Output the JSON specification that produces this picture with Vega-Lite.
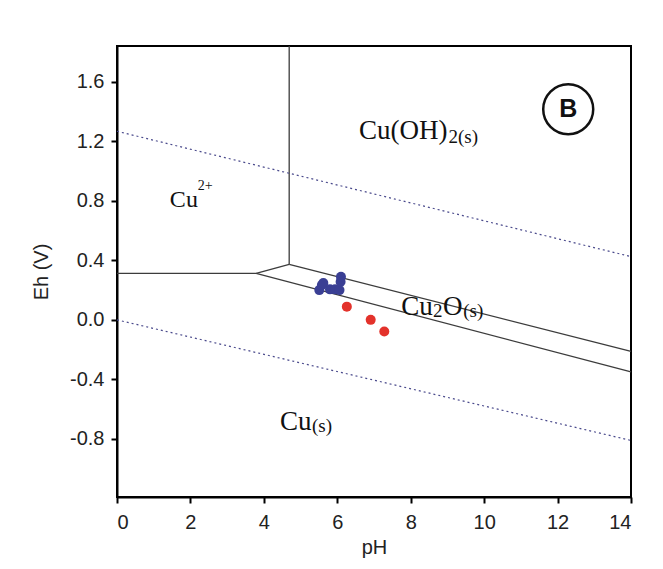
{
  "$schema": "https://vega.github.io/schema/vega-lite/v6.json",
  "autosize": {"type": "none"},
  "width": 514,
  "height": 451,
  "padding": {"left": 117, "top": 46, "right": 32, "bottom": 72},
  "background": "white",
  "config": {
    "view": {"stroke": "black", "strokeWidth": 2},
    "axis": {
      "grid": false,
      "domainColor": "black",
      "domainWidth": 2,
      "tickColor": "black",
      "tickWidth": 2,
      "tickSize": 6,
      "labelFont": "Liberation Sans",
      "labelFontSize": 20,
      "labelColor": "#222",
      "titleFont": "Liberation Sans",
      "titleFontSize": 20,
      "titleFontWeight": "normal",
      "titleColor": "#222"
    }
  },
  "datasets": {
    "solid": [
      {"seg": "a", "pH": 4.69, "Eh": 1.84},
      {"seg": "a", "pH": 4.69, "Eh": 0.373},
      {"seg": "b", "pH": 0, "Eh": 0.312},
      {"seg": "b", "pH": 3.79, "Eh": 0.312},
      {"seg": "c", "pH": 3.79, "Eh": 0.312},
      {"seg": "c", "pH": 4.69, "Eh": 0.373},
      {"seg": "d", "pH": 4.69, "Eh": 0.373},
      {"seg": "d", "pH": 14, "Eh": -0.212},
      {"seg": "e", "pH": 3.79, "Eh": 0.312},
      {"seg": "e", "pH": 14, "Eh": -0.35}
    ],
    "dotted": [
      {"seg": "u", "pH": 0, "Eh": 1.267},
      {"seg": "u", "pH": 14, "Eh": 0.425},
      {"seg": "l", "pH": 0, "Eh": 0.0},
      {"seg": "l", "pH": 14, "Eh": -0.81}
    ],
    "samples": [
      {"group": "blue", "pH": 5.51, "Eh": 0.2},
      {"group": "blue", "pH": 5.58, "Eh": 0.234},
      {"group": "blue", "pH": 5.62, "Eh": 0.247},
      {"group": "blue", "pH": 5.8, "Eh": 0.205},
      {"group": "blue", "pH": 5.94, "Eh": 0.205},
      {"group": "blue", "pH": 6.06, "Eh": 0.2},
      {"group": "blue", "pH": 6.09, "Eh": 0.256},
      {"group": "blue", "pH": 6.1, "Eh": 0.29},
      {"group": "red", "pH": 6.26, "Eh": 0.089},
      {"group": "red", "pH": 6.91, "Eh": 0.0},
      {"group": "red", "pH": 7.28, "Eh": -0.078}
    ],
    "bigText": [
      {"t": "Cu(OH)", "pH": 6.59, "Eh": 1.217},
      {"t": "Cu", "pH": 7.74, "Eh": 0.033},
      {"t": "O", "pH": 8.88, "Eh": 0.033},
      {"t": "Cu", "pH": 4.44, "Eh": -0.742}
    ],
    "subText": [
      {"t": "2(s)", "pH": 9.03, "Eh": 1.19},
      {"t": "2", "pH": 8.61, "Eh": 0.02},
      {"t": "(s)", "pH": 9.43, "Eh": 0.02},
      {"t": "(s)", "pH": 5.31, "Eh": -0.756}
    ],
    "ionText": [
      {"t": "Cu", "pH": 1.44, "Eh": 0.756}
    ],
    "supText": [
      {"t": "2+", "pH": 2.2, "Eh": 0.87}
    ],
    "badge": [
      {"t": "B", "pH": 12.29, "Eh": 1.415}
    ]
  },
  "layer": [
    {
      "data": {"name": "solid"},
      "mark": {"type": "line", "color": "#3c3c3c", "strokeWidth": 1.3},
      "encoding": {
        "x": {"field": "pH", "type": "quantitative", "scale": {"domain": [0, 14], "nice": false, "zero": false},
              "axis": {"values": [0, 2, 4, 6, 8, 10, 12, 14], "title": "pH", "labelPadding": 9, "titlePadding": 5}},
        "y": {"field": "Eh", "type": "quantitative", "scale": {"domain": [-1.19, 1.84], "nice": false, "zero": false},
              "axis": {"values": [-0.8, -0.4, 0, 0.4, 0.8, 1.2, 1.6], "title": "Eh (V)", "labelPadding": 7, "titlePadding": 18,
                       "labelExpr": "replace(format(datum.value, '.1f'), '\u2212', '-')"}},
        "detail": {"field": "seg"}
      }
    },
    {
      "data": {"name": "dotted"},
      "mark": {"type": "line", "color": "#4a4a8c", "strokeWidth": 1.2, "strokeDash": [2, 3]},
      "encoding": {
        "x": {"field": "pH", "type": "quantitative"},
        "y": {"field": "Eh", "type": "quantitative"},
        "detail": {"field": "seg"}
      }
    },
    {
      "data": {"name": "samples"},
      "mark": {"type": "circle", "size": 100, "opacity": 1},
      "encoding": {
        "x": {"field": "pH", "type": "quantitative"},
        "y": {"field": "Eh", "type": "quantitative"},
        "color": {"field": "group", "type": "nominal", "scale": {"domain": ["blue", "red"], "range": ["#3a3f94", "#e3322b"]}, "legend": null}
      }
    },
    {
      "data": {"name": "bigText"},
      "mark": {"type": "text", "font": "Liberation Serif", "fontSize": 27, "align": "left", "baseline": "alphabetic", "color": "#111"},
      "encoding": {
        "x": {"field": "pH", "type": "quantitative"},
        "y": {"field": "Eh", "type": "quantitative"},
        "text": {"field": "t"}
      }
    },
    {
      "data": {"name": "subText"},
      "mark": {"type": "text", "font": "Liberation Serif", "fontSize": 19, "align": "left", "baseline": "alphabetic", "color": "#111"},
      "encoding": {
        "x": {"field": "pH", "type": "quantitative"},
        "y": {"field": "Eh", "type": "quantitative"},
        "text": {"field": "t"}
      }
    },
    {
      "data": {"name": "ionText"},
      "mark": {"type": "text", "font": "Liberation Serif", "fontSize": 24, "align": "left", "baseline": "alphabetic", "color": "#111"},
      "encoding": {
        "x": {"field": "pH", "type": "quantitative"},
        "y": {"field": "Eh", "type": "quantitative"},
        "text": {"field": "t"}
      }
    },
    {
      "data": {"name": "supText"},
      "mark": {"type": "text", "font": "Liberation Serif", "fontSize": 14, "align": "left", "baseline": "alphabetic", "color": "#111"},
      "encoding": {
        "x": {"field": "pH", "type": "quantitative"},
        "y": {"field": "Eh", "type": "quantitative"},
        "text": {"field": "t"}
      }
    },
    {
      "data": {"name": "badge"},
      "mark": {"type": "point", "shape": "circle", "size": 2500, "filled": false, "stroke": "#111", "strokeWidth": 2.5, "opacity": 1},
      "encoding": {
        "x": {"field": "pH", "type": "quantitative"},
        "y": {"field": "Eh", "type": "quantitative"}
      }
    },
    {
      "data": {"name": "badge"},
      "mark": {"type": "text", "font": "Liberation Sans", "fontWeight": "bold", "fontSize": 25, "align": "center", "baseline": "middle", "color": "#111"},
      "encoding": {
        "x": {"field": "pH", "type": "quantitative"},
        "y": {"field": "Eh", "type": "quantitative"},
        "text": {"field": "t"}
      }
    }
  ]
}
